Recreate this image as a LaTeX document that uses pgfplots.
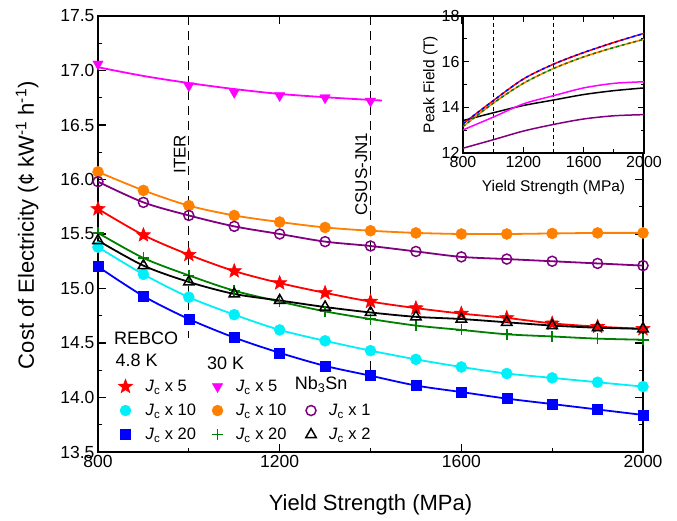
\documentclass[border=0pt]{standalone}
\usepackage{pgfplots}
\pgfplotsset{compat=1.18}
\usepackage{fontspec}
\setmainfont{Liberation Sans}
\usetikzlibrary{plotmarks}

\definecolor{cOrange}{RGB}{255,128,0}
\definecolor{cPurple}{RGB}{128,0,128}
\definecolor{cMag}{RGB}{255,0,255}
\definecolor{cCyan}{RGB}{0,240,250}
\definecolor{cBlue}{RGB}{0,0,255}
\definecolor{cGreen}{RGB}{0,128,0}
\definecolor{cRed}{RGB}{255,0,0}

\pgfdeclareplotmark{fstar}{%
  \pgfpathmoveto{\pgfpointpolar{90}{\pgfplotmarksize}}%
  \pgfpathlineto{\pgfpointpolar{126}{0.42\pgfplotmarksize}}%
  \pgfpathlineto{\pgfpointpolar{162}{\pgfplotmarksize}}%
  \pgfpathlineto{\pgfpointpolar{198}{0.42\pgfplotmarksize}}%
  \pgfpathlineto{\pgfpointpolar{234}{\pgfplotmarksize}}%
  \pgfpathlineto{\pgfpointpolar{270}{0.42\pgfplotmarksize}}%
  \pgfpathlineto{\pgfpointpolar{306}{\pgfplotmarksize}}%
  \pgfpathlineto{\pgfpointpolar{342}{0.42\pgfplotmarksize}}%
  \pgfpathlineto{\pgfpointpolar{18}{\pgfplotmarksize}}%
  \pgfpathlineto{\pgfpointpolar{54}{0.42\pgfplotmarksize}}%
  \pgfpathclose\pgfusepathqfillstroke}

\pgfplotsset{
  ser/.style={smooth, line width=1.8pt},
}

\begin{document}
\begin{tikzpicture}[x=1pt,y=1pt]
\useasboundingbox (0,0) rectangle (677,520);
\begin{axis}[
  at={(98pt,68pt)}, anchor=south west, scale only axis,
  width=545pt, height=436pt,
  xmin=800, xmax=2000, ymin=13.5, ymax=17.5,
  xtick={800,1200,1600,2000}, minor xtick={1000,1400,1800},
  ytick={13.5,14,...,17.5}, minor ytick={13.75,14.25,...,17.25},
  tick align=inside, major tick length=8pt, minor tick length=4.5pt,
  every tick/.style={black, line width=1.3pt},
  axis line style={line width=1.8pt},
  /pgf/number format/assume math mode=true,
  yticklabel style={/pgf/number format/fixed, /pgf/number format/fixed zerofill, /pgf/number format/precision=1},
  xticklabel style={/pgf/number format/1000 sep={}},
  ticklabel style={font=\fontsize{17.5}{20}\selectfont},
  xlabel={Yield Strength (MPa)},
  ylabel={Cost of Electricity (¢ kW\textsuperscript{-1} h\textsuperscript{-1})},
  label style={font=\fontsize{22}{26}\selectfont},
  xlabel style={at={(axis description cs:0.5,-0.122)}, anchor=center},
  ylabel style={at={(axis description cs:-0.13,0.52)}, anchor=center},
  legend columns=3,
  legend cell align=left,
  legend style={at={(axis description cs:0.037,0.02)}, anchor=south west, draw=none, fill=none,
    inner sep=0pt, row sep=7pt,
    font=\fontsize{16.5}{19}\selectfont,
    /tikz/every odd column/.append style={column sep=11pt},
    /tikz/every even column/.append style={column sep=14pt}},
]
% vertical reference lines
\addplot[black, line width=1.2pt, dash pattern=on 9pt off 6pt, forget plot] coordinates {(1000,17.5) (1000,14.55)};
\addplot[black, line width=1.2pt, dash pattern=on 9pt off 6pt, forget plot] coordinates {(1400,17.5) (1400,14.2)};
\node[rotate=90, anchor=south east, inner sep=3pt, font=\fontsize{17}{20}\selectfont] at (axis cs:1000,16.44) {ITER};
\node[rotate=90, anchor=south east, inner sep=3pt, font=\fontsize{17}{20}\selectfont] at (axis cs:1400,16.46) {CSUS-JN1};

% Orange: REBCO 30 K Jc x 10
\addplot[ser, cOrange, mark=*, mark size=5.5pt, mark options={fill=cOrange, draw=cOrange, line width=0.5pt}, forget plot] coordinates {
(800,16.07) (900,15.90) (1000,15.76) (1100,15.67) (1200,15.61) (1300,15.56) (1400,15.53) (1500,15.51) (1600,15.50) (1700,15.50) (1800,15.505) (1900,15.51) (2000,15.51)};
% Purple: Nb3Sn Jc x 1
\addplot[ser, cPurple, mark=o, mark size=5pt, mark options={draw=cPurple, line width=1.5pt}, forget plot] coordinates {
(800,15.98) (900,15.79) (1000,15.67) (1100,15.57) (1200,15.50) (1300,15.43) (1400,15.39) (1500,15.34) (1600,15.29) (1700,15.27) (1800,15.25) (1900,15.23) (2000,15.21)};
% Magenta: REBCO 30 K Jc x 5
\addplot[ser, cMag, forget plot] coordinates {
(800,17.03) (900,16.95) (1000,16.885) (1100,16.83) (1200,16.785) (1300,16.755) (1400,16.73) (1425,16.725)};
\addplot[only marks, mark=triangle*, mark size=6pt, mark options={rotate=180, fill=cMag, draw=cMag}, forget plot] coordinates {
(800,17.06) (1000,16.86) (1100,16.80) (1200,16.77) (1300,16.75) (1400,16.72)};
% Cyan: REBCO 4.8 K Jc x 10
\addplot[ser, cCyan, mark=*, mark size=5.5pt, mark options={fill=cCyan, draw=cCyan, line width=0.5pt}, forget plot] coordinates {
(800,15.38) (900,15.13) (1000,14.92) (1100,14.76) (1200,14.62) (1300,14.52) (1400,14.43) (1500,14.35) (1600,14.28) (1700,14.22) (1800,14.18) (1900,14.14) (2000,14.10)};
% Blue: REBCO 4.8 K Jc x 20
\addplot[ser, cBlue, mark=square*, mark size=5pt, mark options={fill=cBlue, draw=cBlue, line width=0.5pt}, forget plot] coordinates {
(800,15.20) (900,14.93) (1000,14.72) (1100,14.55) (1200,14.41) (1300,14.29) (1400,14.20) (1500,14.11) (1600,14.05) (1700,13.99) (1800,13.94) (1900,13.89) (2000,13.84)};
% Green: REBCO 30 K Jc x 20
\addplot[ser, cGreen, mark=+, mark size=5.5pt, mark options={draw=cGreen, line width=1.6pt}, forget plot] coordinates {
(800,15.51) (900,15.28) (1000,15.12) (1100,14.98) (1200,14.88) (1300,14.79) (1400,14.72) (1500,14.66) (1600,14.62) (1700,14.58) (1800,14.56) (1900,14.54) (2000,14.53)};
% Red: REBCO 4.8 K Jc x 5
\addplot[ser, cRed, mark=fstar, mark size=7.5pt, mark options={fill=cRed, draw=cRed, line width=0.5pt}, forget plot] coordinates {
(800,15.73) (900,15.49) (1000,15.31) (1100,15.16) (1200,15.05) (1300,14.96) (1400,14.88) (1500,14.82) (1600,14.77) (1700,14.73) (1800,14.68) (1900,14.65) (2000,14.63)};
% Black: Nb3Sn Jc x 2
\addplot[ser, black, mark=triangle, mark size=6pt, mark options={draw=black, line width=1.5pt}, forget plot] coordinates {
(800,15.44) (900,15.21) (1000,15.06) (1100,14.95) (1200,14.89) (1300,14.83) (1400,14.78) (1500,14.74) (1600,14.72) (1700,14.69) (1800,14.66) (1900,14.64) (2000,14.63)};

% legend images
\addlegendimage{only marks, mark=fstar, mark size=7.5pt, mark options={fill=cRed, draw=cRed, line width=0.5pt}}
\addlegendentry{\textit{J}\textsubscript{c} x 5}
\addlegendimage{only marks, mark=triangle*, mark size=6pt, mark options={rotate=180, fill=cMag, draw=cMag}}
\addlegendentry{\textit{J}\textsubscript{c} x 5}
\addlegendimage{empty legend}
\addlegendentry{}
\addlegendimage{only marks, mark=*, mark size=5.5pt, mark options={fill=cCyan, draw=cCyan}}
\addlegendentry{\textit{J}\textsubscript{c} x 10}
\addlegendimage{only marks, mark=*, mark size=5.5pt, mark options={fill=cOrange, draw=cOrange}}
\addlegendentry{\textit{J}\textsubscript{c} x 10}
\addlegendimage{only marks, mark=o, mark size=5pt, mark options={draw=cPurple, line width=1.5pt}}
\addlegendentry{\textit{J}\textsubscript{c} x 1}
\addlegendimage{only marks, mark=square*, mark size=5pt, mark options={fill=cBlue, draw=cBlue}}
\addlegendentry{\textit{J}\textsubscript{c} x 20}
\addlegendimage{only marks, mark=+, mark size=5.5pt, mark options={draw=cGreen, line width=1.6pt}}
\addlegendentry{\textit{J}\textsubscript{c} x 20}
\addlegendimage{only marks, mark=triangle, mark size=6pt, mark options={draw=black, line width=1.5pt}}
\addlegendentry{\textit{J}\textsubscript{c} x 2}

% headers
\node[anchor=west, inner sep=0pt, font=\fontsize{18}{21}\selectfont] at (axis description cs:0.029,0.261) {REBCO};
\node[anchor=west, inner sep=0pt, font=\fontsize{18}{21}\selectfont] at (axis description cs:0.032,0.211) {4.8 K};
\node[anchor=west, inner sep=0pt, font=\fontsize{18}{21}\selectfont] at (axis description cs:0.200,0.204) {30 K};
\node[anchor=west, inner sep=0pt, font=\fontsize{18}{21}\selectfont] at (axis description cs:0.361,0.154) {Nb\textsubscript{3}Sn};
\end{axis}

% inset
\begin{axis}[
  at={(463pt,504pt)}, anchor=north west, scale only axis,
  width=181pt, height=137pt,
  xmin=800, xmax=2000, ymin=12, ymax=18,
  xtick={800,1200,1600,2000}, minor xtick={1000,1400,1800},
  ytick={12,14,16,18}, minor ytick={13,15,17},
  axis background/.style={fill=white},
  tick align=inside, major tick length=6pt, minor tick length=3.5pt,
  every tick/.style={black, line width=1.1pt},
  axis line style={line width=1.6pt},
  /pgf/number format/assume math mode=true,
  xticklabel style={/pgf/number format/1000 sep={}},
  ticklabel style={font=\fontsize{16}{19}\selectfont},
  xlabel={Yield Strength (MPa)},
  ylabel={Peak Field (T)},
  label style={font=\fontsize{15.5}{18}\selectfont},
  xlabel style={at={(axis description cs:0.5,-0.25)}, anchor=center},
  ylabel style={at={(axis description cs:-0.18,0.5)}, anchor=center},
]
\addplot[black, line width=0.9pt, dash pattern=on 4pt off 3pt] coordinates {(1000,12) (1000,18)};
\addplot[black, line width=0.9pt, dash pattern=on 4pt off 3pt] coordinates {(1400,12) (1400,18)};
\addplot[smooth, cPurple, line width=1.5pt] coordinates {
(800,12.21) (1000,12.58) (1200,12.96) (1400,13.25) (1600,13.49) (1800,13.63) (2000,13.68)};
\addplot[smooth, black, line width=1.5pt] coordinates {
(800,13.42) (1000,13.76) (1200,14.08) (1400,14.32) (1600,14.56) (1800,14.73) (2000,14.85)};
\addplot[smooth, cMag, line width=1.5pt] coordinates {
(800,13.01) (1000,13.57) (1200,14.15) (1400,14.51) (1600,14.85) (1800,15.05) (2000,15.12)};
\addplot[smooth, cOrange, line width=1.5pt] coordinates {
(800,13.16) (1000,14.18) (1200,15.05) (1400,15.70) (1600,16.21) (1800,16.62) (2000,16.98)};
\addplot[smooth, cGreen, line width=1.5pt, dash pattern=on 3pt off 3pt] coordinates {
(800,13.16) (1000,14.18) (1200,15.05) (1400,15.70) (1600,16.21) (1800,16.62) (2000,16.98)};
\addplot[smooth, cRed, line width=1.5pt] coordinates {
(800,13.28) (1000,14.29) (1200,15.24) (1400,15.89) (1600,16.40) (1800,16.84) (2000,17.24)};
\addplot[smooth, cBlue, line width=1.5pt, dash pattern=on 3pt off 3pt] coordinates {
(800,13.28) (1000,14.29) (1200,15.24) (1400,15.89) (1600,16.40) (1800,16.84) (2000,17.24)};
\end{axis}
\end{tikzpicture}
\end{document}
